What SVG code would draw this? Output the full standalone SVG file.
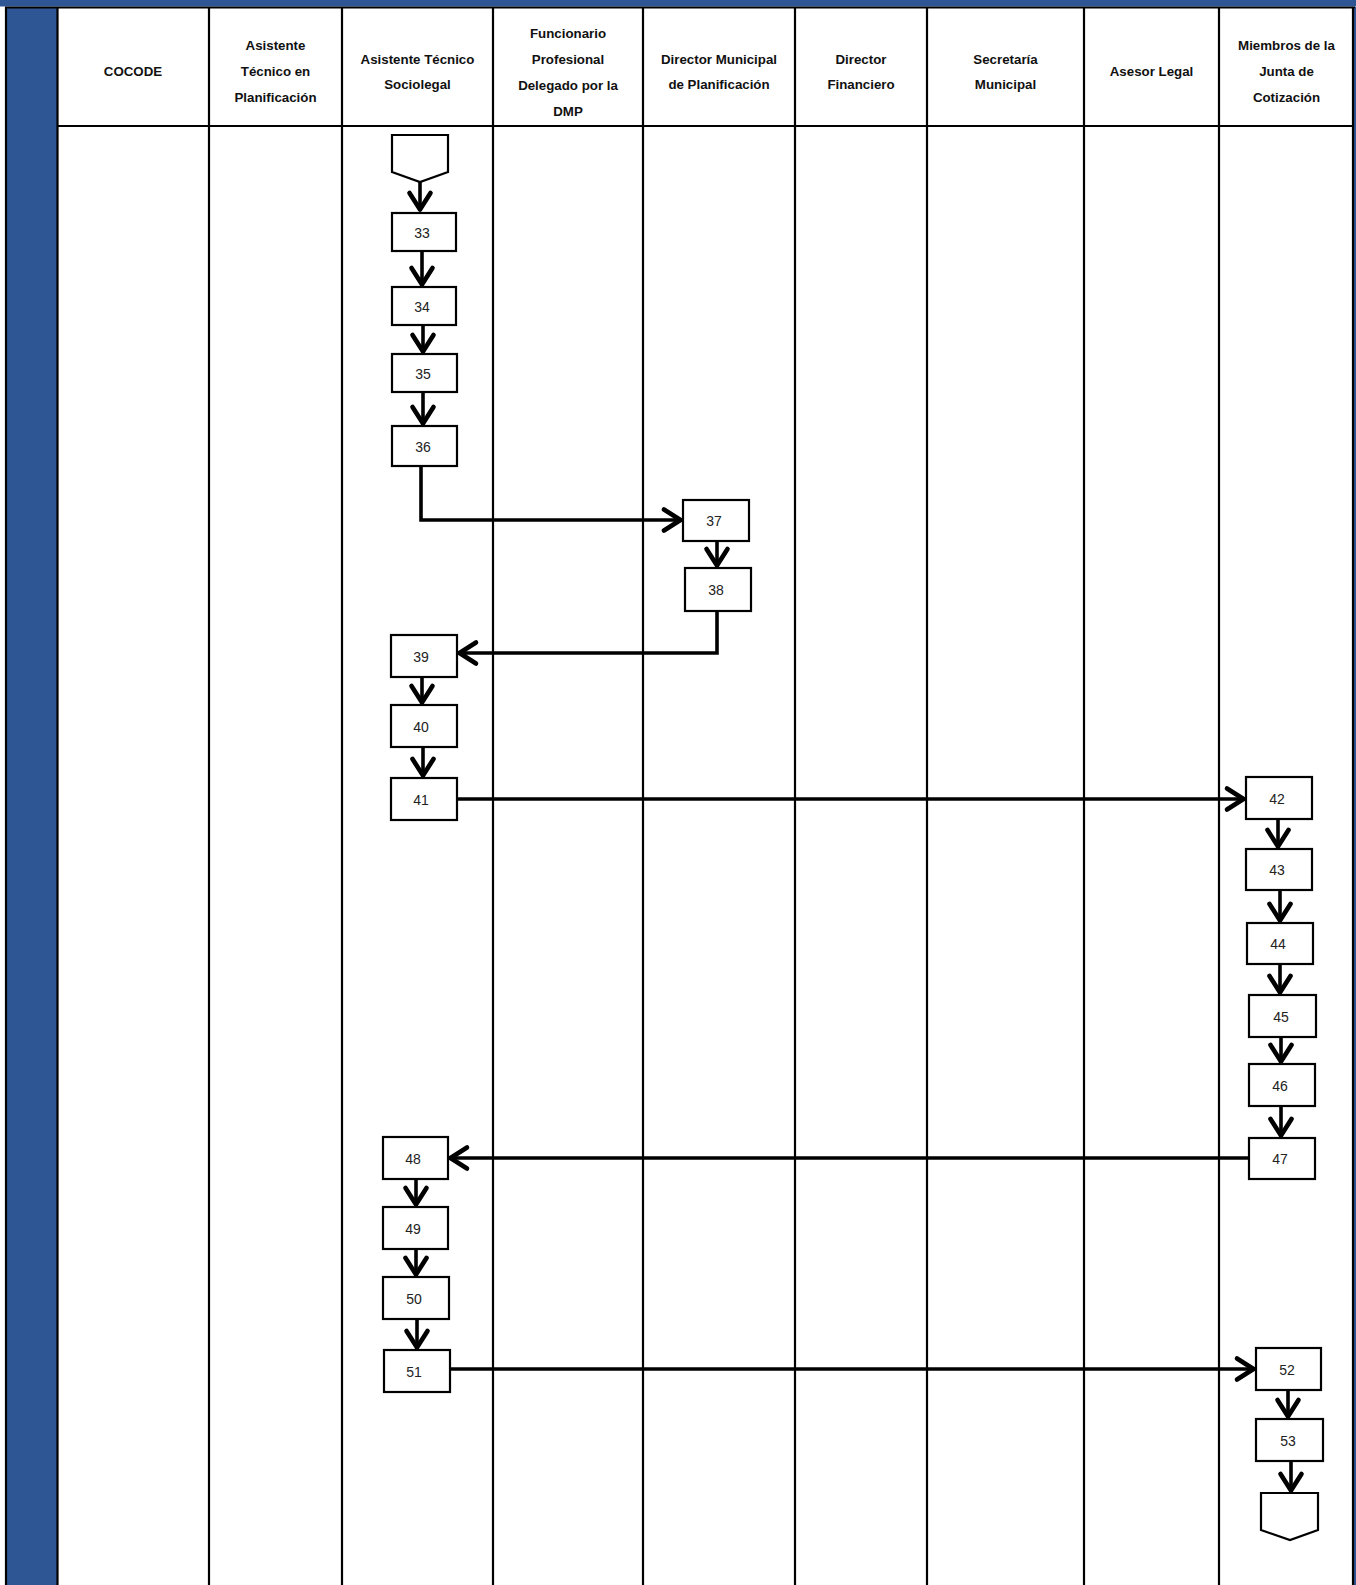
<svg xmlns="http://www.w3.org/2000/svg" width="1356" height="1585" viewBox="0 0 1356 1585">
<style>
.grid{stroke:#000;stroke-width:2.2;fill:none}
.hdr{font-family:"Liberation Sans",Arial,sans-serif;font-weight:bold;font-size:13.3px;fill:#111;text-anchor:middle}
.box{fill:#fff;stroke:#000;stroke-width:2.2}
.num{font-family:"Liberation Sans",Arial,sans-serif;font-size:14px;fill:#222;text-anchor:middle}
.con{stroke:#000;stroke-width:3.6;fill:none}
</style>
<defs>
<marker id="ah" markerUnits="userSpaceOnUse" viewBox="-24 -14 28 28" markerWidth="28" markerHeight="28" refX="0" refY="0" orient="auto" overflow="visible">
<path d="M-18,-10.5 L-1.5,0 L-18,10.5" fill="none" stroke="#000" stroke-width="4.6" stroke-linejoin="round" stroke-linecap="round"/>
</marker>
</defs>
<rect x="0" y="0" width="1356" height="1585" fill="#fff"/>
<g id="frame">
<rect x="0" y="0" width="1356" height="6.5" fill="#2E5594"/>
<rect x="6" y="7" width="51" height="1578" fill="#2E5594"/>
<rect x="1354" y="7" width="2" height="1578" fill="#2E5594"/>
<path class="grid" d="M5,7.5 H1355 M6,7 V1585 M57.5,7 V1585 M1353,7 V1585 M57,126 H1353"/>
<path class="grid" d="M209,7 V1585 M342,7 V1585 M493,7 V1585 M643,7 V1585 M795,7 V1585 M927,7 V1585 M1084,7 V1585 M1219,7 V1585"/>
</g>
<g id="header">
<text class="hdr" x="133" y="76">COCODE</text>
<text class="hdr" x="275.5" y="50">Asistente</text>
<text class="hdr" x="275.5" y="76">Técnico en</text>
<text class="hdr" x="275.5" y="102">Planificación</text>
<text class="hdr" x="417.5" y="63.5">Asistente Técnico</text>
<text class="hdr" x="417.5" y="89">Sociolegal</text>
<text class="hdr" x="568" y="38">Funcionario</text>
<text class="hdr" x="568" y="64">Profesional</text>
<text class="hdr" x="568" y="90">Delegado por la</text>
<text class="hdr" x="568" y="115.5">DMP</text>
<text class="hdr" x="719" y="63.5">Director Municipal</text>
<text class="hdr" x="719" y="89">de Planificación</text>
<text class="hdr" x="861" y="63.5">Director</text>
<text class="hdr" x="861" y="89">Financiero</text>
<text class="hdr" x="1005.5" y="63.5">Secretaría</text>
<text class="hdr" x="1005.5" y="89">Municipal</text>
<text class="hdr" x="1151.5" y="76">Asesor Legal</text>
<text class="hdr" x="1286.5" y="50">Miembros de la</text>
<text class="hdr" x="1286.5" y="76">Junta de</text>
<text class="hdr" x="1286.5" y="102">Cotización</text>
</g>
<g id="connectors">
<path class="con" d="M420,182 V211" marker-end="url(#ah)"/>
<path class="con" d="M422,251 V286" marker-end="url(#ah)"/>
<path class="con" d="M423,325 V353" marker-end="url(#ah)"/>
<path class="con" d="M423,392 V425" marker-end="url(#ah)"/>
<path class="con" d="M421,462 V520 H682" marker-end="url(#ah)"/>
<path class="con" d="M717,541 V567" marker-end="url(#ah)"/>
<path class="con" d="M717,611 V653 H458" marker-end="url(#ah)"/>
<path class="con" d="M422,677 V704" marker-end="url(#ah)"/>
<path class="con" d="M423,747 V777" marker-end="url(#ah)"/>
<path class="con" d="M457,799 H1245" marker-end="url(#ah)"/>
<path class="con" d="M1278,819 V848" marker-end="url(#ah)"/>
<path class="con" d="M1280,890 V922" marker-end="url(#ah)"/>
<path class="con" d="M1280,964 V994" marker-end="url(#ah)"/>
<path class="con" d="M1281,1037 V1063" marker-end="url(#ah)"/>
<path class="con" d="M1281,1106 V1137" marker-end="url(#ah)"/>
<path class="con" d="M1249,1158 H449" marker-end="url(#ah)"/>
<path class="con" d="M416,1179 V1206" marker-end="url(#ah)"/>
<path class="con" d="M416,1249 V1276" marker-end="url(#ah)"/>
<path class="con" d="M417,1319 V1349" marker-end="url(#ah)"/>
<path class="con" d="M450,1369 H1255" marker-end="url(#ah)"/>
<path class="con" d="M1288,1390 V1418" marker-end="url(#ah)"/>
<path class="con" d="M1291,1461 V1492" marker-end="url(#ah)"/>
</g>
<g id="start"><polygon class="box" points="392,135 448,135 448,172 420,182 392,172"/></g>
<g id="n33"><rect class="box" x="392" y="213" width="64" height="38"/><text class="num" x="422" y="238">33</text></g>
<g id="n34"><rect class="box" x="392" y="287" width="64" height="38"/><text class="num" x="422" y="312">34</text></g>
<g id="n35"><rect class="box" x="392" y="354" width="65" height="38"/><text class="num" x="423" y="379">35</text></g>
<g id="n36"><rect class="box" x="392" y="426" width="65" height="40"/><text class="num" x="423" y="452">36</text></g>
<g id="n37"><rect class="box" x="683" y="500" width="66" height="41"/><text class="num" x="714" y="526">37</text></g>
<g id="n38"><rect class="box" x="685" y="568" width="66" height="43"/><text class="num" x="716" y="595">38</text></g>
<g id="n39"><rect class="box" x="391" y="635" width="66" height="42"/><text class="num" x="421" y="662">39</text></g>
<g id="n40"><rect class="box" x="391" y="705" width="66" height="42"/><text class="num" x="421" y="732">40</text></g>
<g id="n41"><rect class="box" x="391" y="778" width="66" height="42"/><text class="num" x="421" y="805">41</text></g>
<g id="n42"><rect class="box" x="1246" y="777" width="66" height="42"/><text class="num" x="1277" y="804">42</text></g>
<g id="n43"><rect class="box" x="1246" y="849" width="66" height="41"/><text class="num" x="1277" y="875">43</text></g>
<g id="n44"><rect class="box" x="1247" y="923" width="66" height="41"/><text class="num" x="1278" y="949">44</text></g>
<g id="n45"><rect class="box" x="1249" y="995" width="67" height="42"/><text class="num" x="1281" y="1022">45</text></g>
<g id="n46"><rect class="box" x="1249" y="1064" width="66" height="42"/><text class="num" x="1280" y="1091">46</text></g>
<g id="n47"><rect class="box" x="1249" y="1138" width="66" height="41"/><text class="num" x="1280" y="1164">47</text></g>
<g id="n48"><rect class="box" x="383" y="1137" width="65" height="42"/><text class="num" x="413" y="1164">48</text></g>
<g id="n49"><rect class="box" x="383" y="1207" width="65" height="42"/><text class="num" x="413" y="1234">49</text></g>
<g id="n50"><rect class="box" x="383" y="1277" width="66" height="42"/><text class="num" x="414" y="1304">50</text></g>
<g id="n51"><rect class="box" x="384" y="1350" width="66" height="42"/><text class="num" x="414" y="1377">51</text></g>
<g id="n52"><rect class="box" x="1256" y="1348" width="65" height="42"/><text class="num" x="1287" y="1375">52</text></g>
<g id="n53"><rect class="box" x="1256" y="1419" width="67" height="42"/><text class="num" x="1288" y="1446">53</text></g>
<g id="end"><polygon class="box" points="1261,1493 1318,1493 1318,1530 1290,1540 1261,1530"/></g>
</svg>
